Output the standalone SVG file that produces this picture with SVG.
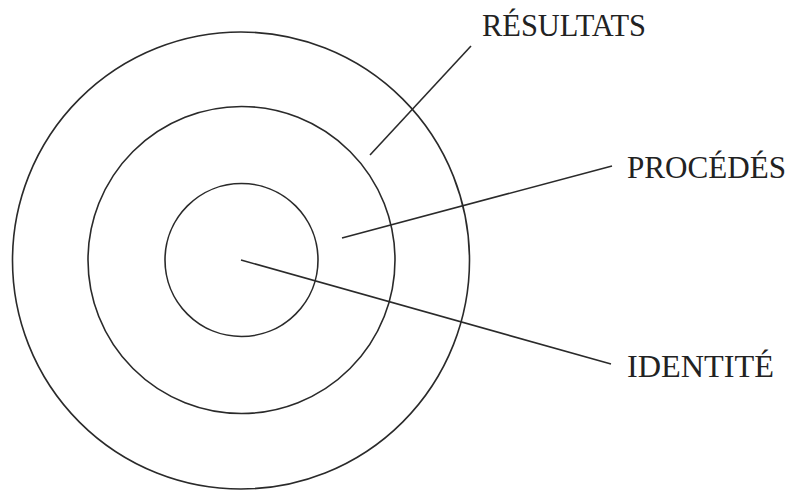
<svg xmlns="http://www.w3.org/2000/svg" width="793" height="491" viewBox="0 0 793 491">
<style>
.ring{fill:none;stroke:#2a2a2a;stroke-width:1.6}
.lead{stroke:#2a2a2a;stroke-width:1.6;fill:none}
.lbl{font-family:"Liberation Serif","DejaVu Serif",serif;font-size:32px;fill:#222}
</style>
<rect width="793" height="491" fill="#fff"/>
<g id="outer"><circle class="ring" cx="241" cy="260.5" r="228.5"/></g>
<g id="middle"><circle class="ring" cx="241.5" cy="260" r="153.5"/></g>
<g id="inner"><circle class="ring" cx="241.5" cy="260" r="76.5"/></g>
<g id="connectors">
<line class="lead" x1="370" y1="155" x2="471" y2="46"/>
<line class="lead" x1="342" y1="238" x2="612" y2="166"/>
<line class="lead" x1="241" y1="260" x2="611" y2="364"/>
</g>
<g id="label-resultats"><text class="lbl" x="482" y="36" textLength="164" lengthAdjust="spacingAndGlyphs">RÉSULTATS</text></g>
<g id="label-procedes"><text class="lbl" x="627" y="177.5" textLength="159" lengthAdjust="spacingAndGlyphs">PROCÉDÉS</text></g>
<g id="label-identite"><text class="lbl" x="627" y="376.5" textLength="147" lengthAdjust="spacingAndGlyphs">IDENTITÉ</text></g>
</svg>
